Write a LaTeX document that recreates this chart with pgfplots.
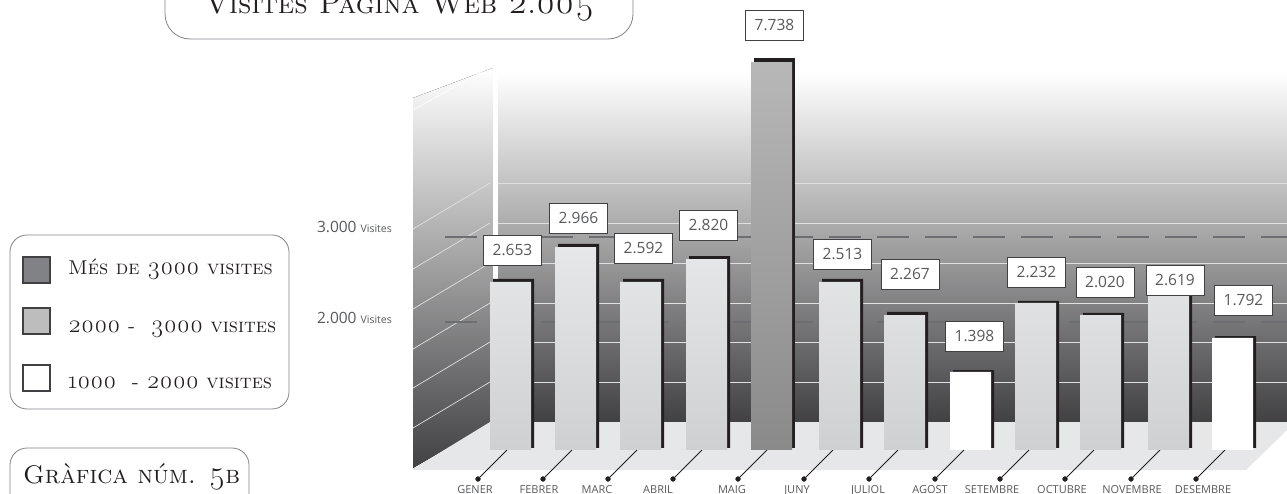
\documentclass[border=0pt]{standalone}
\usepackage{fontspec}
\setsansfont{Open Sans}
\newfontfamily\osf[Numbers=OldStyle,Scale=1.25]{Latin Modern Roman}
\newcommand{\os}[1]{{\osf #1}}
\usepackage{pgfplots}
\usepackage{pgfplotstable}
\pgfplotsset{compat=1.18}

\definecolor{ink}{HTML}{231F20}
\definecolor{wall}{HTML}{414042}
\definecolor{floorc}{HTML}{E6E7E8}
\definecolor{boxline}{HTML}{808285}
\definecolor{txt}{HTML}{58595B}

% x = picture pixels, top = height of the bar on the visits scale
\pgfplotstableread{
x      top   back
510.5  2471  2506
575.5  2882  2918
640.5  2471  2506
706.5  2741  2776
839.5  2471  2506
904.5  2082  2118
1035.5 2224  2247
1100.5 2082  2106
1168.5 2471  2506
}\midbars
\pgfplotstableread{
x      top   back
771.5  5047  5106
}\topbars
\pgfplotstableread{
x      top   back
970.5  1412  1435
1232.5 1812  1835
}\lowbars
\pgfplotstableread[col sep=comma]{
x,y,label
512.5,250,2.653
578.5,218,2.966
643.5,248,2.592
708.5,225,2.820
774.5,25,7.738
842.5,254,2.513
910,274,2.267
974.5,336,1.398
1036.5,272,2.232
1105,282,2.020
1175,280,2.619
1243.5,300,1.792
}\valuelabels

\pgfplotsset{
  base/.style={scale only axis,width=1287pt,xmin=0,xmax=1287,anchor=south west,clip=false},
  pxaxis/.style={base,hide axis,height=494pt,at={(0,0)},ymin=0,ymax=494,y dir=reverse},
}
\newcommand{\roundbox}[5]{\draw[boxline,line width=0.8pt,rounded corners=#5pt] (#1,#2) rectangle (#3,#4);}

\begin{document}
\begin{tikzpicture}
\path[use as bounding box,clip] (0,0) rectangle (1287pt,494pt);

% room: walls, floor, grid
\begin{axis}[pxaxis]
\fill[top color=white,bottom color=wall] (413,98) -- (493,68) -- (493,422) -- (413,468) -- cycle;
\fill[top color=white,bottom color=wall] (497,72) rectangle (1287,422);
\fill[white] (493,60) rectangle (498,422);
\fill[floorc] (413,469) -- (490,422) -- (1287,422) -- (1287,430) -- (1246,470) -- (413,470) -- cycle;
\draw[line width=0.7pt,white] (413,110) -- (490,67);
\pgfplotsinvokeforeach{183,223,263,303,342,382}{
  \draw[line width=0.7pt,white!75!boxline] (498,#1) -- (1287,#1);
  \draw[line width=0.7pt,white!75!boxline] (413,#1+46) -- (490,#1);
}
% leaders from the floor to the month names
\addplot[ink,line width=0.8pt,unbounded coords=jump] coordinates {
(478,479)(507,450)(507,nan)
(543,479)(572,450)(572,nan)
(608,479)(637,450)(637,nan)
(673,479)(702,450)(702,nan)
(738,479)(767,450)(767,nan)
(804,479)(833,450)(833,nan)
(869,479)(898,450)(898,nan)
(935,479)(964,450)(964,nan)
(1000,479)(1029,450)(1029,nan)
(1065,479)(1094,450)(1094,nan)
(1131,479)(1160,450)(1160,nan)
(1196,479)(1225,450)
};
\addplot[only marks,mark=*,mark size=2.4pt,ink] coordinates {
(478,479)(543,479)(608,479)(673,479)(738,479)(804,479)
(869,479)(935,479)(1000,479)(1065,479)(1131,479)(1196,479)};
\end{axis}

% dark backs of the bars and the reference lines, visits scale
\begin{axis}[base,hide axis,height=448pt,at={(0,46pt)},ymin=517.6,ymax=5788.2,
  ybar,bar width=41pt,bar shift=0pt]
\addplot[sharp plot,draw=boxline!85!black,line width=1.8pt,dash pattern=on 32pt off 16pt] coordinates {(445,3000)(1287,3000)};
\addplot[sharp plot,draw=boxline!85!black,line width=1.8pt,dash pattern=on 32pt off 16pt] coordinates {(445,2000)(1287,2000)};
\addplot[fill=ink,draw=none,bar shift=3pt] table[x=x,y=back] {\midbars};
\addplot[fill=ink,draw=none,bar shift=3pt] table[x=x,y=back] {\topbars};
\addplot[fill=ink,draw=none,bar shift=3pt] table[x=x,y=back] {\lowbars};
\end{axis}

% front of the bars and month names
\begin{axis}[base,clip=true,height=450pt,at={(0,44pt)},ymin=494.1,ymax=5788.2,
  ybar,bar width=41pt,bar shift=0pt,
  axis line style={draw=none},major tick length=0pt,ytick=\empty,
  xtick={475,539,597,658,732,797,868,930,992,1062,1132,1203},
  xticklabels={GENER,FEBRER,MARC,ABRIL,MAIG,JUNY,JULIOL,AGOST,SETEMBRE,OCTUBRE,NOVEMBRE,DESEMBRE},
  xticklabel style={font=\sffamily\fontsize{11}{11}\selectfont,text=txt,anchor=base,yshift=-43.5pt,inner sep=0pt}]
\addplot[draw=none,top color=floorc,bottom color=floorc!90!black] table[x=x,y=top] {\midbars};
\addplot[draw=none,top color=black!28,bottom color=black!46] table[x=x,y=top] {\topbars};
\addplot[draw=none,fill=white] table[x=x,y=top] {\lowbars};
\end{axis}

% value boxes, title and key
\begin{axis}[pxaxis]
\addplot[only marks,mark=none,point meta=explicit symbolic,
  nodes near coords,
  nodes near coords style={anchor=center,font=\sffamily\fontsize{15.5}{15.5}\selectfont,text=txt,
    fill=white,draw=wall,line width=0.9pt,minimum width=58pt,minimum height=30pt,inner sep=0pt}]
  table[x=x,y=y,meta=label,col sep=comma] {\valuelabels};

\node[inner sep=0pt,font=\sffamily\fontsize{15.5}{15.5}\selectfont,text=txt,anchor=base east] at (392,233) {3.000 {\fontsize{10.5}{10.5}\selectfont Visites}};
\node[inner sep=0pt,font=\sffamily\fontsize{15.5}{15.5}\selectfont,text=txt,anchor=base east] at (392,323) {2.000 {\fontsize{10.5}{10.5}\selectfont Visites}};

\roundbox{165}{-60}{633}{39}{25}
\node[anchor=base west,inner sep=0pt,font=\fontsize{29.5}{29.5}\selectfont\scshape,text=ink] at (205,14) {Visites Pàgina Web \os{2.005}};

\roundbox{10}{235}{289}{409}{17}
\draw[fill=boxline,draw=wall,line width=1.2pt] (23,257) rectangle (50,283);
\draw[fill=black!26,draw=wall,line width=1.2pt] (23,308) rectangle (50,334);
\draw[fill=white,draw=wall,line width=1.2pt] (23,365) rectangle (50,391);
\node[anchor=base west,inner sep=0pt,font=\fontsize{20}{20}\selectfont\scshape,text=ink] at (68,275) {Més de \os{3000} visites};
\node[anchor=base west,inner sep=0pt,font=\fontsize{20}{20}\selectfont\scshape,text=ink] at (68,332) {\os{2000} -\ \ \os{3000} visites};
\node[anchor=base west,inner sep=0pt,font=\fontsize{20}{20}\selectfont\scshape,text=ink] at (68,388) {\os{1000}\ \ - \os{2000} visites};

\roundbox{10}{448}{249}{540}{17}
\node[anchor=base west,inner sep=0pt,font=\fontsize{25.5}{25.5}\selectfont\scshape,text=ink] at (23,483) {Gràfica núm. \os{5}b};
\end{axis}
\end{tikzpicture}
\end{document}
